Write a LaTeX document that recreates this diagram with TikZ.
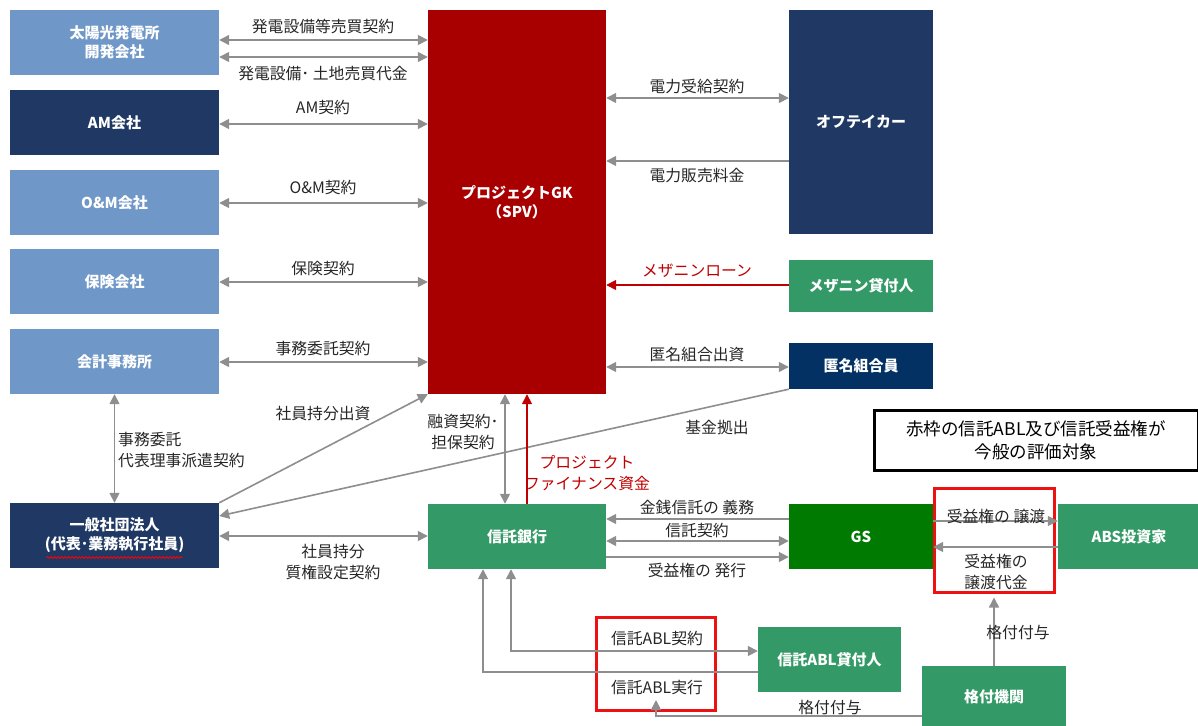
\documentclass[tikz,border=0pt]{standalone}
\usepackage{fontspec}
\setmainfont{Noto Sans CJK JP}
\usetikzlibrary{arrows.meta,decorations.pathmorphing}
\definecolor{lblue}{HTML}{6F97C7}
\definecolor{navy}{HTML}{1F3864}
\definecolor{navyb}{HTML}{043163}
\definecolor{gkred}{HTML}{A80000}
\definecolor{grn}{HTML}{339966}
\definecolor{gsgrn}{HTML}{007A00}
\definecolor{lgray}{HTML}{8E8E8E}
\definecolor{arrred}{HTML}{C00000}
\definecolor{frame}{HTML}{EE1111}
\definecolor{txt}{HTML}{262626}
\tikzset{
  box/.style={draw=none, inner sep=0pt, text=white, align=center,
    font=\bfseries\fontsize{15}{19}\selectfont},
  lbl/.style={inner sep=0pt, text=txt, align=center, font=\fontsize{15.8}{21}\selectfont},
  rlbl/.style={lbl, text=arrred},
  arr/.style={draw=lgray, line width=1.6pt, -{Triangle[length=10pt,width=10pt]}},
  dbl/.style={draw=lgray, line width=1.6pt, {Triangle[length=10pt,width=10pt]}-{Triangle[length=10pt,width=10pt]}},
  redarr/.style={draw=arrred, line width=1.6pt, -{Triangle[length=10pt,width=10pt]}},
  redframe/.style={draw=frame, line width=3pt, inner sep=0pt},
}
\begin{document}
\begin{tikzpicture}[x=1pt,y=-1pt]
\useasboundingbox (0,0) rectangle (1198,725);
% left column
\node[box, fill=lblue, minimum width=209pt, minimum height=65pt] (tai) at (114.5,42.5) {太陽光発電所\\開発会社};
\node[box, fill=navy, minimum width=209pt, minimum height=65pt] (am) at (114.5,122.5) {AM会社};
\node[box, fill=lblue, minimum width=209pt, minimum height=65pt] (om) at (114.5,202.5) {O\&M会社};
\node[box, fill=lblue, minimum width=209pt, minimum height=65pt] (hoken) at (114.5,281.5) {保険会社};
\node[box, fill=lblue, minimum width=209pt, minimum height=65pt] (kaikei) at (114.5,361.5) {会計事務所};
\node[box, fill=navy, minimum width=209pt, minimum height=65pt] (ippan) at (114.5,535.5) {一般社団法人\\(代表･業務執行社員)};
\draw[red, line width=0.8pt, decorate, decoration={snake, amplitude=0.9pt, segment length=3.5pt}]
  ([xshift=-68pt,yshift=-22pt]ippan.center) -- ([xshift=68pt,yshift=-22pt]ippan.center);
% center
\node[box, fill=gkred, minimum width=178pt, minimum height=384pt] (gk) at (517,202) {プロジェクトGK\\（SPV）};
\node[box, fill=grn, minimum width=178pt, minimum height=65pt] (bank) at (517,536.5) {信託銀行};
% right
\node[box, fill=navy, minimum width=144pt, minimum height=224pt] (off) at (861,122) {オフテイカー};
\node[box, fill=grn, minimum width=144pt, minimum height=52pt] (mez) at (861,286) {メザニン貸付人};
\node[box, fill=navyb, minimum width=144pt, minimum height=46pt] (tok) at (861,366) {匿名組合員};
\node[box, fill=gsgrn, minimum width=144pt, minimum height=65pt] (gs) at (861,536.5) {GS};
\node[box, fill=grn, minimum width=142pt, minimum height=65pt] (abs) at (1129,536.5) {ABS投資家};
\node[box, fill=grn, minimum width=143pt, minimum height=65pt] (abll) at (829.5,659.5) {信託ABL貸付人};
\node[box, fill=grn, minimum width=144pt, minimum height=62pt] (kaku) at (994,697) {格付機関};
% note box
\node[draw=black, line width=3pt, minimum width=324pt, minimum height=60pt, align=center,
  font=\fontsize{17.5}{23}\selectfont, inner sep=0pt] (note) at (1036,440) {赤枠の信託ABL及び信託受益権が\\今般の評価対象};
% red frames
\node[redframe, minimum width=120pt, minimum height=104pt] (frm1) at (994.5,540) {};
\node[redframe, minimum width=119pt, minimum height=93pt] (frm2) at (656,664) {};
% left arrows
\draw[dbl] (tai.east |- 0,40) -- (gk.west |- 0,40);
\draw[dbl] (tai.east |- 0,57) -- (gk.west |- 0,57);
\node[lbl] (l1) at (323,26) {発電設備等売買契約};
\node[lbl] (l2) at (323,74) {発電設備･ 土地売買代金};
\draw[dbl] (am.east |- 0,124) -- (gk.west |- 0,124);
\node[lbl] (l3) at (323,108) {AM契約};
\draw[dbl] (om.east |- 0,203) -- (gk.west |- 0,203);
\node[lbl] (l4) at (323,188) {O\&M契約};
\draw[dbl] (hoken.east |- 0,282) -- (gk.west |- 0,282);
\node[lbl] (l5) at (323,269) {保険契約};
\draw[dbl] (kaikei.east |- 0,362) -- (gk.west |- 0,362);
\node[lbl] (l6) at (323,349) {事務委託契約};
\draw[arr] (ippan.north east) -- (gk.south west);
\node[lbl] (l7) at (323,414) {社員持分出資};
\draw[dbl] (kaikei.south) -- (ippan.north);
\node[lbl, anchor=west, align=left] (l8) at (118,450) {事務委託\\代表理事派遣契約};
\draw[dbl] (ippan.east |- 0,536) -- (bank.west |- 0,536);
\node[lbl] (l9) at (333,562) {社員持分\\質権設定契約};
\draw[arr] (tok.south west) -- (ippan.east |- 0,516);
\node[lbl] (l10) at (717,427) {基金拠出};
% GK-bank
\draw[dbl] (505,0 |- gk.south) -- (505,0 |- bank.north);
\node[lbl] (l11) at (463,432) {融資契約･\\担保契約};
\draw[redarr] (527,0 |- bank.north) -- (527,0 |- gk.south);
\node[rlbl] (l12) at (587,473) {プロジェクト\\ファイナンス資金};
% right arrows
\draw[dbl] (gk.east |- 0,98) -- (off.west |- 0,98);
\node[lbl] (l13) at (697,86) {電力受給契約};
\draw[arr] (off.west |- 0,161) -- (gk.east |- 0,161);
\node[lbl] (l14) at (697,176) {電力販売料金};
\draw[redarr] (mez.west |- 0,285) -- (gk.east |- 0,285);
\node[rlbl] (l15) at (697,271) {メザニンローン};
\draw[dbl] (gk.east |- 0,367) -- (tok.west |- 0,367);
\node[lbl] (l16) at (697,354) {匿名組合出資};
% bank-GS
\draw[arr] (gs.west |- 0,519) -- (bank.east |- 0,519);
\node[lbl] (l17) at (697,507) {金銭信託の 義務};
\draw[dbl] (bank.east |- 0,541) -- (gs.west |- 0,541);
\node[lbl] (l18) at (697,530) {信託契約};
\draw[arr] (bank.east |- 0,557) -- (gs.west |- 0,557);
\node[lbl] (l19) at (697,570) {受益権の 発行};
% GS-ABS
\draw[arr] (gs.east |- 0,521) -- (abs.west |- 0,521);
\node[lbl] (l20) at (996,516) {受益権の 譲渡};
\draw[arr] (abs.west |- 0,547) -- (gs.east |- 0,547);
\node[lbl] (l21) at (996,572) {受益権の\\譲渡代金};
% ABL
\draw[dbl] (511,0 |- bank.south) |- (abll.west |- 0,651);
\draw[arr] (abll.west |- 0,672) -| (483,0 |- bank.south);
\node[lbl] (l22) at (657,638) {信託ABL契約};
\node[lbl] (l23) at (657,688) {信託ABL実行};
\draw[arr] (kaku.west |- 0,716) -| ([yshift=12pt]frm2.south);
\node[lbl] (l24) at (830,707) {格付付与};
\draw[arr, shorten >=4pt] (kaku.north) -- (kaku.north |- frm1.south);
\node[lbl] (l25) at (1018,632) {格付付与};
\end{tikzpicture}
\end{document}
